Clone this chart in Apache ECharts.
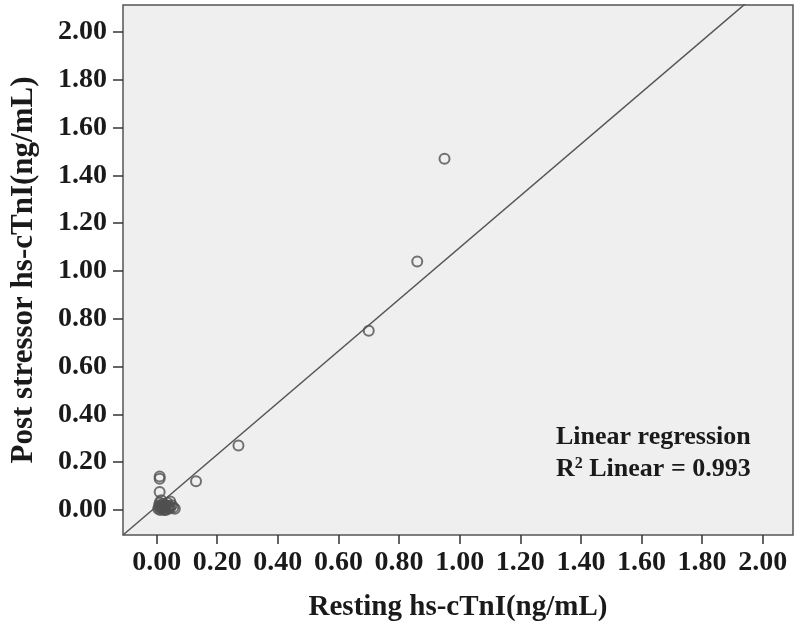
<!DOCTYPE html>
<html>
<head>
<meta charset="utf-8">
<script src="https://cdn.jsdelivr.net/npm/echarts@6/dist/echarts.min.js"></script>
<style>
  html, body { margin: 0; padding: 0; background: #ffffff; }
  #chart { width: 800px; height: 634px; }
</style>
</head>
<body>
<div id="chart"></div>
<script>
// ---- data ----
const restingValues = [0.95, 0.86, 0.70, 0.27, 0.13,
  0.01, 0.01, 0.01,
  0.005, 0.01, 0.012, 0.015, 0.02, 0.02, 0.025, 0.03, 0.03, 0.035, 0.04, 0.045, 0.05, 0.055, 0.06,
  0.01, 0.015, 0.02, 0.008, 0.04, 0.025, 0.035, 0.012, 0.045, 0.018, 0.028];
const postValues = [1.47, 1.04, 0.75, 0.27, 0.12,
  0.14, 0.13, 0.075,
  0.005, 0.01, 0.0, 0.02, 0.005, 0.015, 0.01, 0.02, 0.0, 0.01, 0.005, 0.035, 0.02, 0.01, 0.005,
  0.03, 0.04, 0.025, 0.018, 0.015, 0.0, 0.03, 0.012, 0.01, 0.008, 0.022];
const tickValues = [0, 0.2, 0.4, 0.6, 0.8, 1.0, 1.2, 1.4, 1.6, 1.8, 2.0];
const fitSlope = 1.0825;
const fitIntercept = 0.0152;
const xRange = [-0.111, 2.10];
const yRange = [-0.105, 2.113];
const legendLines = ['Linear regression', 'R{sup|2} Linear = 0.993'];
const xTitle = 'Resting hs-cTnI(ng/mL)';
const yTitle = 'Post stressor hs-cTnI(ng/mL)';

const points = restingValues.map((x, i) => [x, postValues[i]]);
const fitLine = [xRange[0], xRange[1]].map(x => [x, fitIntercept + fitSlope * x]);

const FONT = "'Liberation Serif', 'Times New Roman', serif";
const chart = echarts.init(document.getElementById('chart'), null, { renderer: 'canvas' });

const axisCommon = {
  type: 'value',
  splitLine: { show: false },
  axisLine: { show: false, onZero: false },
  axisTick: { show: true, customValues: tickValues, length: 10, lineStyle: { color: '#333', width: 1.5 } },
  axisLabel: {
    show: true, customValues: tickValues,
    formatter: v => v.toFixed(2),
    fontFamily: FONT, fontWeight: 'bold', fontSize: 28, color: '#1a1a1a'
  },
  nameLocation: 'middle',
  nameTextStyle: { fontFamily: FONT, fontWeight: 'bold', fontSize: 29, color: '#1a1a1a' }
};

chart.setOption({
  animation: false,
  backgroundColor: '#ffffff',
  grid: {
    left: 122, top: 5, right: 7, bottom: 99,
    show: true, backgroundColor: '#efefef', borderColor: '#555', borderWidth: 1.5
  },
  xAxis: Object.assign({}, axisCommon, {
    min: xRange[0], max: xRange[1],
    name: xTitle, nameGap: 58,
    axisTick: Object.assign({}, axisCommon.axisTick, { length: 9 }),
    axisLabel: Object.assign({}, axisCommon.axisLabel, { margin: 14 })
  }),
  yAxis: Object.assign({}, axisCommon, {
    min: yRange[0], max: yRange[1],
    name: yTitle, nameGap: 84,
    axisLabel: Object.assign({}, axisCommon.axisLabel, { margin: 16 }),
    nameTextStyle: Object.assign({}, axisCommon.nameTextStyle, { fontSize: 31 })
  }),
  series: [
    {
      type: 'line',
      data: fitLine,
      showSymbol: false,
      clip: true,
      lineStyle: { color: '#555', width: 1.5 },
      z: 2
    },
    {
      type: 'scatter',
      data: points,
      symbol: 'circle',
      symbolSize: 10,
      itemStyle: { color: 'rgba(0,0,0,0)', borderColor: '#505050', borderWidth: 2 },
      z: 3
    }
  ],
  graphic: [
    {
      type: 'text', left: 556, top: 424, z: 10,
      style: { text: legendLines[0], font: "bold 26px " + FONT, fill: '#1a1a1a' }
    },
    {
      type: 'text', left: 556, top: 456, z: 10,
      style: {
        text: legendLines[1], font: "bold 26px " + FONT, fill: '#1a1a1a',
        rich: { sup: { fontSize: 16, fontWeight: 'bold', fontFamily: FONT, verticalAlign: 'top', padding: [0, 0, 10, 0] } }
      }
    }
  ]
});
</script>
</body>
</html>
